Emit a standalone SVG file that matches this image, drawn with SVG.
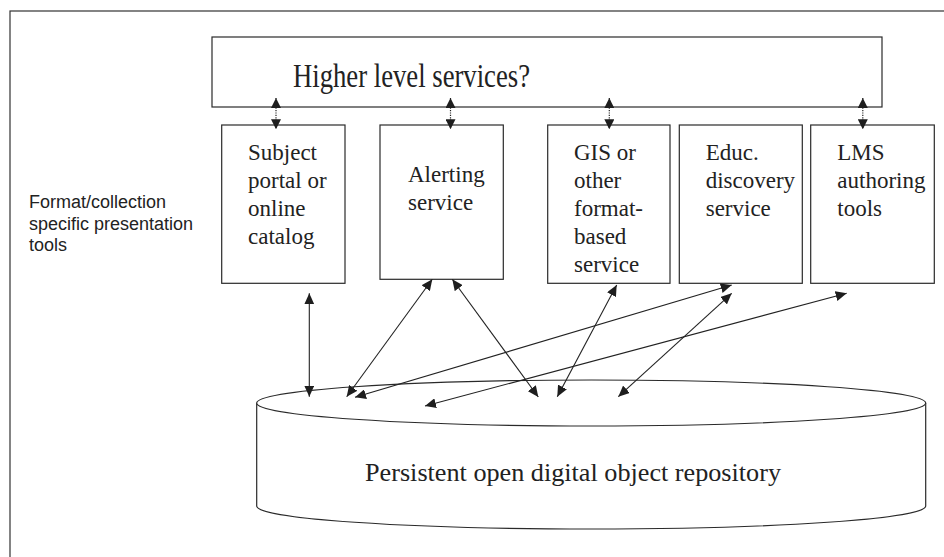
<svg xmlns="http://www.w3.org/2000/svg" width="944" height="557" viewBox="0 0 944 557">
<style>
  .frame{fill:none;stroke:#333;stroke-width:1.2}
  .box{fill:#fff;stroke:#2a2a2a;stroke-width:1.2}
  .t{font-family:"Liberation Serif","Times New Roman",serif;font-size:23px;fill:#222}
  .big{font-family:"Liberation Serif","Times New Roman",serif;font-size:26.2px;fill:#222}
  .side{font-family:"Liberation Sans",Arial,sans-serif;font-size:18px;fill:#222}
  .conn{stroke:#222;stroke-width:1.1;fill:none;marker-start:url(#ah);marker-end:url(#ah)}
  .dot{stroke:#222;stroke-width:1.2;fill:none;stroke-dasharray:1.2,1.2;marker-start:url(#ah2);marker-end:url(#ah2)}
  .cyl{fill:#fff;stroke:#2a2a2a;stroke-width:1.2}
</style>
<defs>
  <marker id="ah" viewBox="0 0 11 10" markerWidth="11" markerHeight="10" refX="11" refY="5" markerUnits="userSpaceOnUse" orient="auto-start-reverse">
    <path d="M0,0 L11,5 L0,10 z" fill="#1e1e1e"/>
  </marker>
  <marker id="ah2" viewBox="0 0 10 10" markerWidth="10" markerHeight="10" refX="10" refY="5" markerUnits="userSpaceOnUse" orient="auto-start-reverse">
    <path d="M0,0 L10,5 L0,10 z" fill="#1e1e1e"/>
  </marker>
</defs>
<rect width="944" height="557" fill="#fff"/>
<rect class="frame" x="10" y="11" width="1000" height="600"/>

<g id="higher">
  <rect class="box" x="212" y="37" width="670" height="70"/>
  <text class="big" x="293" y="87.3" style="font-size:33px" textLength="237" lengthAdjust="spacingAndGlyphs">Higher level services?</text>
</g>

<g id="subject">
  <rect class="box" x="221.7" y="125" width="123.3" height="158.3"/>
  <text class="t"><tspan x="248" y="160">Subject</tspan><tspan x="248" y="188">portal or</tspan><tspan x="248" y="216">online</tspan><tspan x="248" y="243.5">catalog</tspan></text>
</g>

<g id="alerting">
  <rect class="box" x="380" y="125" width="123.3" height="154.3"/>
  <text class="t"><tspan x="408" y="182">Alerting</tspan><tspan x="408" y="210">service</tspan></text>
</g>

<g id="gis">
  <rect class="box" x="547.7" y="125" width="122.3" height="158.3"/>
  <text class="t"><tspan x="574" y="160">GIS or</tspan><tspan x="574" y="188">other</tspan><tspan x="574" y="216">format-</tspan><tspan x="574" y="243.5">based</tspan><tspan x="574" y="271.5">service</tspan></text>
</g>

<g id="educ">
  <rect class="box" x="679.3" y="125" width="123" height="158.3"/>
  <text class="t"><tspan x="705.7" y="160">Educ.</tspan><tspan x="705.7" y="188">discovery</tspan><tspan x="705.7" y="216">service</tspan></text>
</g>

<g id="lms">
  <rect class="box" x="810.7" y="125" width="123.6" height="158.3"/>
  <text class="t"><tspan x="837.3" y="160">LMS</tspan><tspan x="837.3" y="188">authoring</tspan><tspan x="837.3" y="216">tools</tspan></text>
</g>

<g id="side-label">
  <text class="side"><tspan x="29" y="208">Format/collection</tspan><tspan x="29" y="229.5">specific presentation</tspan><tspan x="29" y="251">tools</tspan></text>
</g>

<g id="repository">
  <path class="cyl" d="M256.7,403 L256.7,506 A334.5,23 0 0 0 925.7,506 L925.7,403"/>
  <ellipse class="cyl" cx="591.2" cy="403" rx="334.5" ry="23"/>
  <text class="big" x="365" y="480.7">Persistent open digital object repository</text>
</g>

<g id="connectors">
  <line class="dot" x1="276" y1="98" x2="276" y2="129.3"/>
  <line class="dot" x1="450.5" y1="98" x2="450.5" y2="129.3"/>
  <line class="dot" x1="609.3" y1="98" x2="609.3" y2="129.3"/>
  <line class="dot" x1="862.8" y1="98" x2="862.8" y2="129.3"/>

  <line class="conn" x1="309.3" y1="293.3" x2="309.3" y2="396.7"/>
  <line class="conn" x1="432.3" y1="279.3" x2="346.7" y2="396.7"/>
  <line class="conn" x1="452.3" y1="279.3" x2="538.3" y2="397"/>
  <line class="conn" x1="616.7" y1="285" x2="557.3" y2="396.7"/>
  <line class="conn" x1="731.7" y1="285" x2="355" y2="397.3"/>
  <line class="conn" x1="731.7" y1="293.3" x2="618.3" y2="396.7"/>
  <line class="conn" x1="846.7" y1="293.3" x2="425" y2="406"/>
</g>
</svg>
